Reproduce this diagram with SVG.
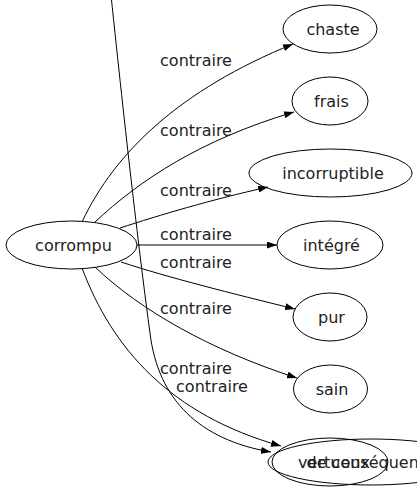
<svg xmlns="http://www.w3.org/2000/svg" width="417" height="491" viewBox="0 0 417 491">
<defs>
<marker id="arr" markerUnits="userSpaceOnUse" viewBox="0 0 10 7" refX="10" refY="3.5" markerWidth="10" markerHeight="7" orient="auto">
<path d="M0,0 L10,3.5 L0,7 Z" fill="#000"/>
</marker>
<style>
.n ellipse{fill:none;stroke:#000;stroke-width:1}
.t{font-family:"DejaVu Sans",sans-serif;font-size:16px;fill:#222;text-anchor:middle}
.e path{fill:none;stroke:#000;stroke-width:1;marker-end:url(#arr)}
</style>
</defs>
<rect width="417" height="491" fill="#fff"/>
<g id="edges" class="e">
<path d="M82,222 C115,152 180,90 293,44"/>
<path d="M95,222 C140,180 200,140 294,112"/>
<path d="M120,228 C160,215 210,200 268,187"/>
<path d="M137,245 L277,245"/>
<path d="M121,262 C170,278 230,293 295,309"/>
<path d="M95,267 C140,310 210,350 297,378"/>
<path d="M82,268 C112,348 170,415 281,446"/>
<path d="M111,-5 C125,130 140,260 150,333 C158,400 200,440 271,452"/>
</g>
<g id="labels">
<text class="t" x="196" y="66">contraire</text>
<text class="t" x="196" y="136">contraire</text>
<text class="t" x="196" y="196">contraire</text>
<text class="t" x="196" y="240">contraire</text>
<text class="t" x="196" y="268">contraire</text>
<text class="t" x="196" y="314">contraire</text>
<text class="t" x="196" y="374">contraire</text>
<text class="t" x="212" y="392">contraire</text>
</g>
<g id="corrompu" class="n"><ellipse cx="71.5" cy="245" rx="65.5" ry="24"/><text class="t" x="73.5" y="251">corrompu</text></g>
<g id="chaste" class="n"><ellipse cx="330" cy="29" rx="47" ry="24"/><text class="t" x="333" y="35">chaste</text></g>
<g id="frais" class="n"><ellipse cx="330" cy="101" rx="38" ry="24"/><text class="t" x="331.5" y="107">frais</text></g>
<g id="incorruptible" class="n"><ellipse cx="330.5" cy="173" rx="81.5" ry="24"/><text class="t" x="333" y="179">incorruptible</text></g>
<g id="integre" class="n"><ellipse cx="330" cy="245" rx="53" ry="24"/><text class="t" x="331.5" y="251">intégré</text></g>
<g id="pur" class="n"><ellipse cx="330" cy="317" rx="37" ry="24"/><text class="t" x="331.5" y="323">pur</text></g>
<g id="sain" class="n"><ellipse cx="330.5" cy="389" rx="37" ry="24"/><text class="t" x="332" y="395">sain</text></g>
<g id="de-consequence" class="n"><ellipse cx="371" cy="462" rx="103" ry="23"/><text class="t" x="372" y="468">de conséquence</text></g>
<g id="vertueux" class="n"><ellipse cx="330" cy="462" rx="58" ry="24"/><text class="t" x="334" y="468">vertueux</text></g>
</svg>
